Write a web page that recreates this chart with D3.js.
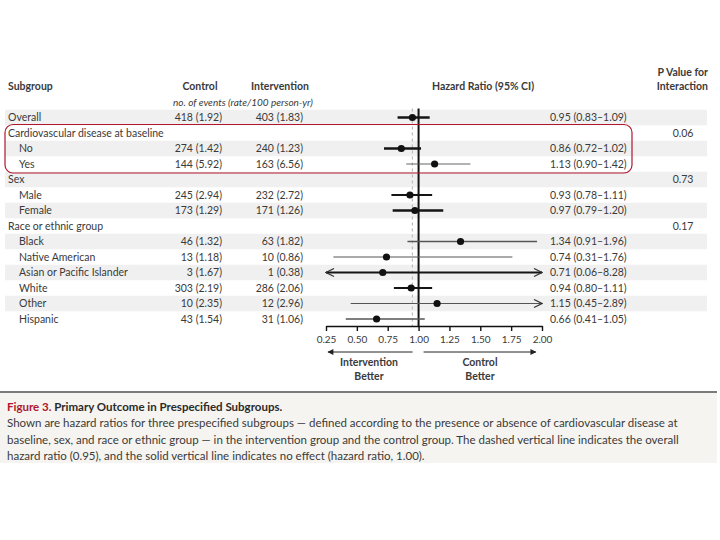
<!DOCTYPE html>
<html>
<head>
<meta charset="utf-8">
<script src="https://cdn.jsdelivr.net/npm/d3@7"></script>
<style>
  body { margin: 0; background: #fff; }
  svg { font-family: Lato, "Open Sans", sans-serif; }
</style>
</head>
<body>
<div id="chart"></div>
<script>
// rows of the table, top to bottom
const subgroups = ["Overall", "Cardiovascular disease at baseline", "No", "Yes", "Sex", "Male", "Female",
    "Race or ethnic group", "Black", "Native American", "Asian or Pacific Islander", "White", "Other", "Hispanic"]
const rowKind = ["top", "header", "sub", "sub", "header", "sub", "sub",
    "header", "sub", "sub", "sub", "sub", "sub", "sub"]

const controlEvents = [418, null, 274, 144, null, 245, 173, null, 46, 13, 3, 303, 10, 43]
const controlRate = [1.92, null, 1.42, 5.92, null, 2.94, 1.29, null, 1.32, 1.18, 1.67, 2.19, 2.35, 1.54]
const interventionEvents = [403, null, 240, 163, null, 232, 171, null, 63, 10, 1, 286, 12, 31]
const interventionRate = [1.83, null, 1.23, 6.56, null, 2.72, 1.26, null, 1.82, 0.86, 0.38, 2.06, 2.96, 1.06]

const hazardRatio = [0.95, null, 0.86, 1.13, null, 0.93, 0.97, null, 1.34, 0.74, 0.71, 0.94, 1.15, 0.66]
const ciLow = [0.83, null, 0.72, 0.90, null, 0.78, 0.79, null, 0.91, 0.31, 0.06, 0.80, 0.45, 0.41]
const ciHigh = [1.09, null, 1.02, 1.42, null, 1.11, 1.20, null, 1.96, 1.76, 8.28, 1.11, 2.89, 1.05]
const pInteraction = [null, "0.06", null, null, "0.73", null, null, "0.17", null, null, null, null, null, null]

const axisTicks = [0.25, 0.50, 0.75, 1.00, 1.25, 1.50, 1.75, 2.00]
const overallHR = 0.95

// line weight of each confidence interval as drawn in the figure
const ciWeight = {"Overall": 2.6, "No": 2.6, "Yes": 0.9, "Male": 1.8, "Female": 2.6, "Black": 1.4,
    "Native American": 1, "Asian or Pacific Islander": 1.8, "White": 2, "Other": 1, "Hispanic": 1.6}

const width = 720, height = 540
const rowTop = 117.5, rowStep = 15.5
const textColor = "#3a3a3a"
const nejmRed = "#b0172f"

const svg = d3.select("#chart").append("svg")
    .attr("width", width)
    .attr("height", height)

const defs = svg.append("defs")
defs.append("marker")
    .attr("id", "chevron")
    .attr("viewBox", "0 0 10 10")
    .attr("refX", 9).attr("refY", 5)
    .attr("markerWidth", 10).attr("markerHeight", 10)
    .attr("markerUnits", "userSpaceOnUse")
    .attr("orient", "auto-start-reverse")
    .append("path")
        .attr("d", "M1,1 L9,5 L1,9")
        .attr("fill", "none")
        .attr("stroke", "#333")
        .attr("stroke-width", 1.2)
defs.append("marker")
    .attr("id", "solidhead")
    .attr("viewBox", "0 0 10 10")
    .attr("refX", 9).attr("refY", 5)
    .attr("markerWidth", 8).attr("markerHeight", 6)
    .attr("markerUnits", "userSpaceOnUse")
    .attr("orient", "auto-start-reverse")
    .append("path")
        .attr("d", "M0,0 L10,5 L0,10 Z")
        .attr("fill", "#222")

const x = d3.scaleLinear().domain([0.25, 2.00]).range([326, 542])
const y = i => rowTop + i * rowStep
const rows = d3.range(subgroups.length)

// zebra stripes
svg.append("g").selectAll("rect")
    .data(rows.filter(i => i % 2 == 0))
    .join("rect")
        .attr("x", 5)
        .attr("y", i => y(i) - rowStep / 2)
        .attr("width", 702)
        .attr("height", rowStep)
        .attr("fill", "#f0f0f0")

// column headers
const head = svg.append("g").attr("fill", textColor).attr("font-size", 10.5)
head.append("text").attr("x", 8).attr("y", 90).attr("font-weight", "bold").text("Subgroup")
head.append("text").attr("x", 200).attr("y", 90).attr("text-anchor", "middle").attr("font-weight", "bold").text("Control")
head.append("text").attr("x", 280).attr("y", 90).attr("text-anchor", "middle").attr("font-weight", "bold").text("Intervention")
head.append("text").attr("x", 243).attr("y", 106).attr("text-anchor", "middle").attr("font-style", "italic")
    .attr("font-size", 10).text("no. of events (rate/100 person-yr)")
head.append("text").attr("x", 483).attr("y", 90).attr("text-anchor", "middle").attr("font-weight", "bold").text("Hazard Ratio (95% CI)")
head.append("text").attr("x", 708).attr("y", 76).attr("text-anchor", "end").attr("font-weight", "bold").text("P Value for")
head.append("text").attr("x", 708).attr("y", 90).attr("text-anchor", "end").attr("font-weight", "bold").text("Interaction")

// table body
const body = svg.append("g").attr("fill", textColor).attr("font-size", 10.5)
body.selectAll(".label")
    .data(rows)
    .join("text")
        .attr("class", "label")
        .attr("x", i => rowKind[i] == "sub" ? 19 : 8)
        .attr("y", i => y(i) + 3.8)
        .text(i => subgroups[i])

const withData = rows.filter(i => hazardRatio[i] != null)
const fmt = d3.format(".2f")

body.selectAll(".ctrl")
    .data(withData)
    .join("text")
        .attr("x", 222)
        .attr("y", i => y(i) + 3.8)
        .attr("text-anchor", "end")
        .text(i => `${controlEvents[i]} (${fmt(controlRate[i])})`)

body.selectAll(".intv")
    .data(withData)
    .join("text")
        .attr("x", 303)
        .attr("y", i => y(i) + 3.8)
        .attr("text-anchor", "end")
        .text(i => `${interventionEvents[i]} (${fmt(interventionRate[i])})`)

body.selectAll(".hr")
    .data(withData)
    .join("text")
        .attr("x", 550)
        .attr("y", i => y(i) + 3.8)
        .text(i => `${fmt(hazardRatio[i])} (${fmt(ciLow[i])}\u2013${fmt(ciHigh[i])})`)

body.selectAll(".pval")
    .data(rows.filter(i => pInteraction[i] != null))
    .join("text")
        .attr("x", 683)
        .attr("y", i => y(i) + 3.8)
        .attr("text-anchor", "middle")
        .text(i => pInteraction[i])

// reference lines
const [d0, d1] = x.domain()
svg.append("line")
    .attr("x1", x(overallHR)).attr("x2", x(overallHR))
    .attr("y1", y(0) - 9).attr("y2", 326)
    .attr("stroke", "#bdbdbd").attr("stroke-width", 1.2)
    .attr("stroke-dasharray", "3,3")
svg.append("line")
    .attr("x1", x(1)).attr("x2", x(1))
    .attr("y1", y(0) - 9).attr("y2", 326)
    .attr("stroke", "#111").attr("stroke-width", 2)

// confidence intervals and point estimates
const ci = svg.append("g")
ci.selectAll("line")
    .data(withData)
    .join("line")
        .attr("x1", i => x(Math.max(ciLow[i], d0)))
        .attr("x2", i => x(Math.min(ciHigh[i], d1)))
        .attr("y1", i => y(i)).attr("y2", i => y(i))
        .attr("stroke", i => ciWeight[subgroups[i]] >= 1.8 ? "#151515" : "#555")
        .attr("stroke-width", i => ciWeight[subgroups[i]])
        .attr("marker-start", i => ciLow[i] < d0 ? "url(#chevron)" : null)
        .attr("marker-end", i => ciHigh[i] > d1 ? "url(#chevron)" : null)
ci.selectAll("circle")
    .data(withData)
    .join("circle")
        .attr("cx", i => x(hazardRatio[i]))
        .attr("cy", i => y(i))
        .attr("r", 3.6)
        .attr("fill", "#111")

// axis
const axis = svg.append("g")
    .attr("transform", "translate(0,326)")
    .call(d3.axisBottom(x).tickValues(axisTicks).tickFormat(fmt).tickSize(5).tickSizeOuter(0))
axis.select(".domain").attr("stroke", "#111").attr("stroke-width", 1.4)
axis.selectAll(".tick line").attr("stroke", "#111").attr("stroke-width", 1.4)
axis.selectAll(".tick text").attr("font-family", "Lato, sans-serif").attr("font-size", 10)
    .attr("fill", textColor).attr("dy", "0.9em")

// direction arrows
svg.append("line").attr("x1", x(1) - 6).attr("x2", x(0.25) + 2).attr("y1", 352).attr("y2", 352)
    .attr("stroke", "#222").attr("stroke-width", 1).attr("marker-end", "url(#solidhead)")
svg.append("line").attr("x1", x(1) + 5).attr("x2", x(1.95)).attr("y1", 352).attr("y2", 352)
    .attr("stroke", "#222").attr("stroke-width", 1).attr("marker-end", "url(#solidhead)")
const dir = svg.append("g").attr("fill", textColor).attr("font-size", 10.5).attr("font-weight", "bold")
    .attr("text-anchor", "middle")
dir.append("text").attr("x", 369).attr("y", 366).text("Intervention")
dir.append("text").attr("x", 369).attr("y", 380).text("Better")
dir.append("text").attr("x", 480).attr("y", 366).text("Control")
dir.append("text").attr("x", 480).attr("y", 380).text("Better")

// highlight box around the cardiovascular rows
svg.append("rect")
    .attr("x", 5).attr("y", y(1) - 8.5)
    .attr("width", 627).attr("height", rowStep * 3 + 2)
    .attr("rx", 8).attr("ry", 8)
    .attr("fill", "none")
    .attr("stroke", nejmRed).attr("stroke-width", 1.2)

// caption
svg.append("rect").attr("x", 0).attr("y", 392).attr("width", 717).attr("height", 71).attr("fill", "#f6f4f0")
svg.append("line").attr("x1", 0).attr("x2", 717).attr("y1", 392).attr("y2", 392)
    .attr("stroke", "#7a7a7a").attr("stroke-width", 2)

const cap = svg.append("g").attr("font-size", 11.5).attr("fill", textColor)
const title = cap.append("text").attr("x", 7).attr("y", 411).attr("font-weight", "bold")
title.append("tspan").attr("fill", nejmRed).text("Figure 3. ")
title.append("tspan").attr("fill", "#2a2a2a").text("Primary Outcome in Prespecified Subgroups.")

const captionLines = [
    "Shown are hazard ratios for three prespecified subgroups \u2014 defined according to the presence or absence of cardiovascular disease at",
    "baseline, sex, and race or ethnic group \u2014 in the intervention group and the control group. The dashed vertical line indicates the overall",
    "hazard ratio (0.95), and the solid vertical line indicates no effect (hazard ratio, 1.00)."
]
cap.selectAll(".cl")
    .data(captionLines)
    .join("text")
        .attr("x", 7)
        .attr("y", (d, i) => 427 + i * 16.5)
        .text(d => d)
</script>
</body>
</html>
